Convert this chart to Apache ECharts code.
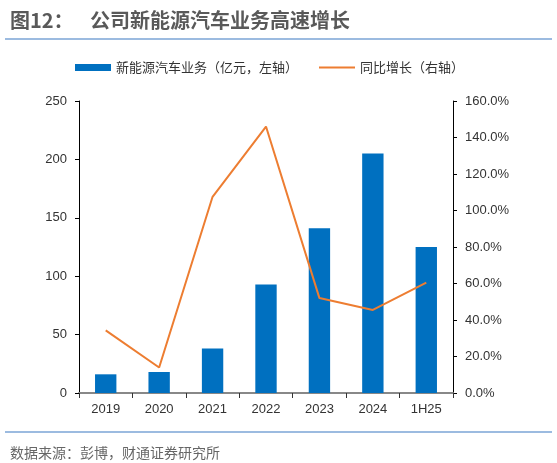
<!DOCTYPE html>
<html>
<head>
<meta charset="utf-8">
<script src="https://cdn.jsdelivr.net/npm/echarts@6/dist/echarts.min.js"></script>
<style>
html,body{margin:0;padding:0;background:#fff;}
#c{width:557px;height:463px;}
</style>
</head>
<body>
<div id="c"></div>
<script>
var categories = ['2019','2020','2021','2022','2023','2024','1H25'];
var revenue = [16, 18, 38, 93, 141, 205, 125];
var growth = [34.3, 14.0, 107.5, 146.0, 52.0, 45.5, 60.5];
var leftTicks = {min: 0, max: 250, interval: 50};
var rightTicks = {min: 0, max: 160, interval: 20};
var seriesNames = ['新能源汽车业务（亿元，左轴）', '同比增长（右轴）'];

var chart = echarts.init(document.getElementById('c'));
var cjk = '"Noto Sans CJK SC", "Noto Sans", sans-serif';
var num = '"Liberation Sans", Arial, sans-serif';
chart.setOption({
  animation: false,
  backgroundColor: '#fff',
  title: [
    {text: '图12：', left: 5, top: 5, textStyle: {fontFamily: cjk, fontSize: 20, fontWeight: 'bold', color: '#595959'}},
    {text: '公司新能源汽车业务高速增长', left: 85, top: 5, textStyle: {fontFamily: cjk, fontSize: 20, fontWeight: 'bold', color: '#595959'}},
    {text: '数据来源：彭博，财通证券研究所', left: 5, top: 441, textStyle: {fontFamily: cjk, fontSize: 14, fontWeight: 'normal', color: '#666'}}
  ],
  graphic: [
    {type: 'line', shape: {x1: 5, y1: 39, x2: 552, y2: 39}, style: {stroke: '#7BA4D6', lineWidth: 1.5}},
    {type: 'line', shape: {x1: 5, y1: 432, x2: 552, y2: 432}, style: {stroke: '#7BA4D6', lineWidth: 1.5}}
  ],
  legend: {
    left: 70, top: 56,
    itemWidth: 36, itemHeight: 7, itemGap: 20,
    textStyle: {fontFamily: cjk, fontSize: 13, color: '#333'},
    data: [
      {name: seriesNames[0], icon: 'rect'},
      {name: seriesNames[1], itemStyle: {color: 'rgba(0,0,0,0)', borderWidth: 0, opacity: 0}}
    ]
  },
  grid: {left: 79, right: 104, top: 101, bottom: 70, outerBoundsMode: 'none'},
  xAxis: {
    type: 'category',
    data: categories,
    axisLine: {lineStyle: {color: '#888', width: 2}},
    axisTick: {show: true, alignWithLabel: false, length: 5, lineStyle: {color: '#333', width: 1}},
    axisLabel: {fontFamily: num, fontSize: 13, color: '#333', margin: 10}
  },
  yAxis: [
    {
      type: 'value', min: leftTicks.min, max: leftTicks.max, interval: leftTicks.interval,
      axisLine: {show: true, lineStyle: {color: '#000', width: 1}},
      axisTick: {show: true, length: 4, lineStyle: {color: '#000'}},
      splitLine: {show: false},
      axisLabel: {fontFamily: num, fontSize: 13, color: '#333', margin: 12}
    },
    {
      type: 'value', min: rightTicks.min, max: rightTicks.max, interval: rightTicks.interval,
      position: 'right',
      axisLine: {show: true, lineStyle: {color: '#000', width: 1}},
      axisTick: {show: true, length: 4, lineStyle: {color: '#000'}},
      splitLine: {show: false},
      axisLabel: {fontFamily: num, fontSize: 13, color: '#333', margin: 12,
        formatter: function (v) { return v.toFixed(1) + '%'; }}
    }
  ],
  series: [
    {name: seriesNames[0], type: 'bar', data: revenue, yAxisIndex: 0, barWidth: '40%',
     itemStyle: {color: '#0070C0'}},
    {name: seriesNames[1], type: 'line', data: growth, yAxisIndex: 1, symbol: 'none',
     lineStyle: {color: '#ED7D31', width: 2}, itemStyle: {color: '#ED7D31'}}
  ]
});
</script>
</body>
</html>
